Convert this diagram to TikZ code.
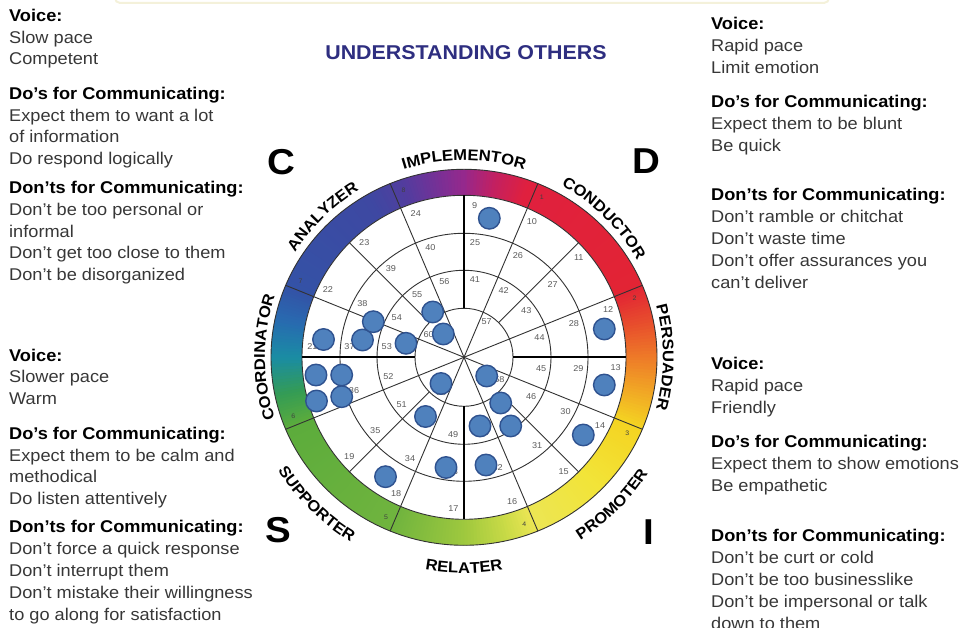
\documentclass[tikz,border=0pt]{standalone}
\usepackage{fontspec}
\setmainfont{Liberation Sans}[FakeStretch=1.07]
\usetikzlibrary{decorations.text}

\definecolor{bodytext}{RGB}{55,55,55}
\definecolor{titleblue}{RGB}{46,46,128}
\definecolor{dotfill}{RGB}{79,129,189}
\definecolor{dotline}{RGB}{47,82,143}
\definecolor{gridline}{RGB}{50,50,50}
\definecolor{numgray}{RGB}{90,90,90}
\definecolor{faintedge}{RGB}{244,241,218}

% colour stops of the outer ring, clockwise from the top
\definecolor{s0}{RGB}{150,40,140}
\definecolor{s1}{RGB}{196,32,96}
\definecolor{s2}{RGB}{224,32,62}
\definecolor{s3}{RGB}{226,36,52}
\definecolor{s4}{RGB}{232,82,44}
\definecolor{s5}{RGB}{238,122,40}
\definecolor{s6}{RGB}{244,212,34}
\definecolor{s7}{RGB}{242,228,56}
\definecolor{s8}{RGB}{236,230,84}
\definecolor{s9}{RGB}{200,218,70}
\definecolor{s10}{RGB}{158,200,62}
\definecolor{s11}{RGB}{112,180,62}
\definecolor{s12}{RGB}{92,172,60}
\definecolor{s13}{RGB}{52,156,84}
\definecolor{s14}{RGB}{26,140,164}
\definecolor{s15}{RGB}{40,106,176}
\definecolor{s16}{RGB}{52,82,166}
\definecolor{s17}{RGB}{62,72,162}
\definecolor{s18}{RGB}{84,60,158}
\definecolor{s19}{RGB}{120,48,150}

% one stretch of the ring: from t1 to t2 (degrees clockwise from top), colour A to colour B
\newcommand\ringseg[4]{%
  \pgfmathsetmacro\segN{int(ceil(#2-#1))}%
  \foreach \i in {1,...,\segN}{%
    \pgfmathsetmacro\rsA{#1+(#2-#1)*(\i-1)/\segN}%
    \pgfmathsetmacro\rsB{#1+(#2-#1)*\i/\segN+0.4}%
    \pgfmathsetmacro\mixp{int(round(100*(\i-0.5)/\segN))}%
    \fill[#4!\mixp!#3] (0,0) -- ({90-\rsA}:193 and 188) -- ({90-\rsB}:193 and 188) -- cycle;
  }}

\newcommand\wheelfont{\fontsize{15.5}{16}\selectfont\bfseries}

% labels round the wheel: upper ones read clockwise, lower ones counter-clockwise
\newcommand\toplabel[2]{%
  \path[decorate, decoration={text along path, text align=center, text={|\wheelfont|#2}}]
    ({#1+40}:199 and 197) arc[start angle={#1+40}, end angle={#1-40}, x radius=199pt, y radius=197pt];}
\newcommand\botlabel[2]{%
  \path[decorate, decoration={text along path, text align=center, text={|\wheelfont|#2}}]
    ({#1-40}:218 and 216) arc[start angle={#1-40}, end angle={#1+40}, x radius=218pt, y radius=216pt];}

\begin{document}
\begin{tikzpicture}[x=1pt,y=1pt,
  hd/.style={anchor=base west, inner sep=0pt, font=\fontsize{17}{20}\selectfont\bfseries, text=black},
  bd/.style={anchor=base west, inner sep=0pt, font=\fontsize{17}{20}\selectfont, text=bodytext},
  bigletter/.style={anchor=base, inner sep=0pt, font=\fontsize{36}{40}\selectfont\bfseries, text=black},
  numlbl/.style={inner sep=0pt, font=\fontsize{8.5}{9}\selectfont, text=numgray},
  ringnum/.style={inner sep=0pt, font=\fontsize{6.5}{7}\selectfont, text=black!75},
  dotmark/.style={circle, fill=dotfill, draw=dotline, line width=1.4pt, minimum size=21.5pt, inner sep=0pt},
  grid/.style={draw=gridline, line width=0.9pt},
  axis/.style={draw=black, line width=1.8pt}]
\useasboundingbox (0,0) rectangle (963,628);
\clip (0,0) rectangle (963,628);

% ---------------- the wheel ----------------
\begin{scope}[shift={(464,270.7)}]
  % coloured outer ring
  \ringseg{0}{10}{s0}{s1}
  \ringseg{10}{20}{s1}{s2}
  \ringseg{20}{67.5}{s2}{s3}
  \ringseg{67.5}{80}{s3}{s4}
  \ringseg{80}{90}{s4}{s5}
  \ringseg{90}{112.5}{s5}{s6}
  \ringseg{112.5}{135}{s6}{s7}
  \ringseg{135}{157.5}{s7}{s8}
  \ringseg{157.5}{167}{s8}{s9}
  \ringseg{167}{180}{s9}{s10}
  \ringseg{180}{202.5}{s10}{s11}
  \ringseg{202.5}{247.5}{s11}{s12}
  \ringseg{247.5}{258}{s12}{s13}
  \ringseg{258}{270}{s13}{s14}
  \ringseg{270}{282}{s14}{s15}
  \ringseg{282}{292.5}{s15}{s16}
  \ringseg{292.5}{330}{s16}{s17}
  \ringseg{330}{342}{s17}{s18}
  \ringseg{342}{352}{s18}{s19}
  \ringseg{352}{360}{s19}{s0}
  \fill[white] (0,0) circle (162pt);

  % rings
  \draw[grid] (0,0) circle (49pt) circle (87pt) circle (124pt);
  \draw[grid] (0,0) circle (162pt);
  \draw[grid] (0,0) ellipse [x radius=193pt, y radius=188pt];

  % spokes
  \foreach \a in {22.5,67.5,...,337.5} \draw[grid] (0,0) -- (\a:193 and 188);
  \foreach \a in {45,135,225,315} \draw[grid] (\a:49) -- (\a:162);
  \foreach \a in {0,90,180,270} \draw[axis] (\a:49) -- (\a:162);

  % cell numbers
  \foreach \k [evaluate=\k as \ang using {67.5-45*(\k-1)-3}] in {1,...,8}
    \node[ringnum] (seg-\k) at (\ang:181 and 177) {\k};
  \foreach \k [evaluate=\k as \ang using {90-22.5*(\k-9)-4}] in {9,...,24}
    \node[numlbl] (cell-\k) at (\ang:152) {\k};
  \foreach \k [evaluate=\k as \ang using {90-22.5*(\k-25)-5.5}] in {25,...,40}
    \node[numlbl] (cell-\k) at (\ang:115) {\k};
  \foreach \k [evaluate=\k as \ang using {90-22.5*(\k-41)-8}] in {41,...,56}
    \node[numlbl] (cell-\k) at (\ang:78) {\k};
  \foreach \k [evaluate=\k as \ang using {67.5-90*(\k-57)-10}] in {57,...,60}
    \node[numlbl] (cell-\k) at (\ang:42) {\k};

  % style names round the wheel
  \toplabel{90}{IMPLEMENTOR}
  \toplabel{45}{CONDUCTOR}
  \toplabel{0}{PERSUADER}
  \toplabel{135}{ANALYZER}
  \toplabel{180}{COORDINATOR}
  \botlabel{-45}{PROMOTER}
  \botlabel{-90}{RELATER}
  \botlabel{-135}{SUPPORTER}
\end{scope}

% ---------------- page coordinates, y downward ----------------
\begin{scope}[shift={(0,628)}, yscale=-1]
  % faint edge of the frame at the top
  \draw[faintedge, line width=2pt, rounded corners=5pt] (115,-10) -- (115,3) -- (829,3) -- (829,-10);

  % plotted responses
  \foreach \px/\py [count=\n] in {489.3/218.3, 604.3/329, 604.3/385, 583.3/435, 510.7/426,
      480/426, 500.7/403, 486.7/376, 486/465, 446/467.5, 425.5/416.5, 441/383.5,
      385.5/476.7, 316.5/401, 341.7/396.7, 316/375, 341.7/375, 323.5/339.5,
      362.5/340, 373.3/321.7, 406/343.3, 432.7/312, 443.3/334}
    \node[dotmark] (dot-\n) at (\px,\py) {};

  % title and quadrant letters
  \node[anchor=base, inner sep=0pt, font=\fontsize{20}{24}\selectfont\bfseries, text=titleblue]
    (title) at (466,59.5) {UNDERSTANDING OTHERS};
  \node[bigletter] (quad-c) at (281,175) {C};
  \node[bigletter] (quad-d) at (646,174) {D};
  \node[bigletter] (quad-s) at (278,543) {S};
  \node[bigletter] (quad-i) at (649,545) {I};

  % C: upper left
  \node[hd] (c1) at (9,22) {Voice:};
  \node[bd] (c2) at (9,43.5) {Slow pace};
  \node[bd] (c3) at (9,65) {Competent};
  \node[hd] (c4) at (9,99.5) {Do’s for Communicating:};
  \node[bd] (c5) at (9,121.5) {Expect them to want a lot};
  \node[bd] (c6) at (9,143) {of information};
  \node[bd] (c7) at (9,165) {Do respond logically};
  \node[hd] (c8) at (9,194) {Don’ts for Communicating:};
  \node[bd] (c9) at (9,216) {Don’t be too personal or};
  \node[bd] (c10) at (9,237.5) {informal};
  \node[bd] (c11) at (9,259) {Don’t get too close to them};
  \node[bd] (c12) at (9,280.5) {Don’t be disorganized};

  % S: lower left
  \node[hd] (s1) at (9,361.5) {Voice:};
  \node[bd] (s2) at (9,383) {Slower pace};
  \node[bd] (s3) at (9,405) {Warm};
  \node[hd] (s4) at (9,439.5) {Do’s for Communicating:};
  \node[bd] (s5) at (9,461.5) {Expect them to be calm and};
  \node[bd] (s6) at (9,483) {methodical};
  \node[bd] (s7) at (9,504.5) {Do listen attentively};
  \node[hd] (s8) at (9,532.5) {Don’ts for Communicating:};
  \node[bd] (s9) at (9,555) {Don’t force a quick response};
  \node[bd] (s10) at (9,576.5) {Don’t interrupt them};
  \node[bd] (s11) at (9,598.5) {Don’t mistake their willingness};
  \node[bd] (s12) at (9,620.5) {to go along for satisfaction};

  % D: upper right
  \node[hd] (d1) at (711,29.5) {Voice:};
  \node[bd] (d2) at (711,51.5) {Rapid pace};
  \node[bd] (d3) at (711,73.5) {Limit emotion};
  \node[hd] (d4) at (711,108) {Do’s for Communicating:};
  \node[bd] (d5) at (711,130) {Expect them to be blunt};
  \node[bd] (d6) at (711,152) {Be quick};
  \node[hd] (d7) at (711,201) {Don’ts for Communicating:};
  \node[bd] (d8) at (711,223) {Don’t ramble or chitchat};
  \node[bd] (d9) at (711,245) {Don’t waste time};
  \node[bd] (d10) at (711,267) {Don’t offer assurances you};
  \node[bd] (d11) at (711,289) {can’t deliver};

  % I: lower right
  \node[hd] (i1) at (711,370) {Voice:};
  \node[bd] (i2) at (711,392) {Rapid pace};
  \node[bd] (i3) at (711,414) {Friendly};
  \node[hd] (i4) at (711,448) {Do’s for Communicating:};
  \node[bd] (i5) at (711,470) {Expect them to show emotions};
  \node[bd] (i6) at (711,492) {Be empathetic};
  \node[hd] (i7) at (711,542) {Don’ts for Communicating:};
  \node[bd] (i8) at (711,564) {Don’t be curt or cold};
  \node[bd] (i9) at (711,586) {Don’t be too businesslike};
  \node[bd] (i10) at (711,608) {Don’t be impersonal or talk};
  \node[bd] (i11) at (711,630) {down to them};
\end{scope}
\end{tikzpicture}
\end{document}
